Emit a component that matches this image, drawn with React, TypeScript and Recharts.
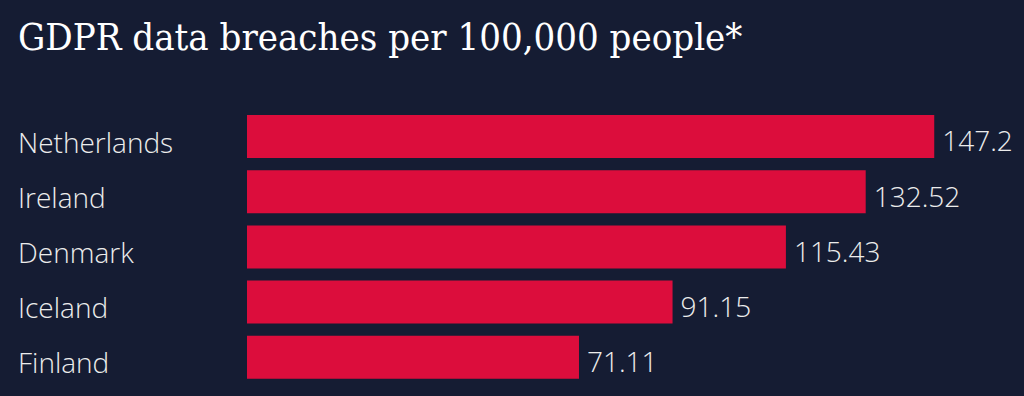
import React from 'react';
import { BarChart, Bar, XAxis, YAxis, LabelList } from 'recharts';

const countries = ['Netherlands', 'Ireland', 'Denmark', 'Iceland', 'Finland'];
const breaches = [147.2, 132.52, 115.43, 91.15, 71.11];

const chartData = countries.map((name, i) => ({ name, value: breaches[i] }));

const BG = '#151c33';
const BAR = '#dc0d3c';
const TEXT = '#ececec';

const CountryTick = (props: any) => {
  const { y, payload } = props;
  return (
    <text
      x={18} y={y} dy={16}
      fill={TEXT} fontSize={28} fontWeight={300}
      fontFamily="'Open Sans', sans-serif" textAnchor="start"
    >
      {payload.value}
    </text>
  );
};

export default function App() {
  return (
    <div style={{ position: 'fixed', left: 0, top: 0, width: 1024, height: 396, background: BG, overflow: 'hidden' }}>
      <div
        style={{
          position: 'absolute', left: 18, top: 15,
          fontFamily: "'DejaVu Serif', serif", fontStretch: 'condensed', fontSize: 38,
          color: '#ffffff', whiteSpace: 'nowrap',
        }}
      >
        GDPR data breaches per 100,000 people*
      </div>
      <BarChart
        width={1024}
        height={396}
        data={chartData}
        layout="vertical"
        margin={{ top: 109, right: 30, bottom: 11, left: 0 }}
        barCategoryGap={12}
      >
        <XAxis type="number" domain={[0, 160]} hide />
        <YAxis type="category" dataKey="name" width={247} axisLine={false} tickLine={false} tick={<CountryTick />} />
        <Bar dataKey="value" fill={BAR} barSize={43} isAnimationActive={false}>
          <LabelList
            dataKey="value"
            position="right"
            offset={8}
            fill={TEXT}
            fontSize={28}
            fontWeight={300}
            fontFamily="'Open Sans', sans-serif"
            dy={5}
          />
        </Bar>
      </BarChart>
    </div>
  );
}
